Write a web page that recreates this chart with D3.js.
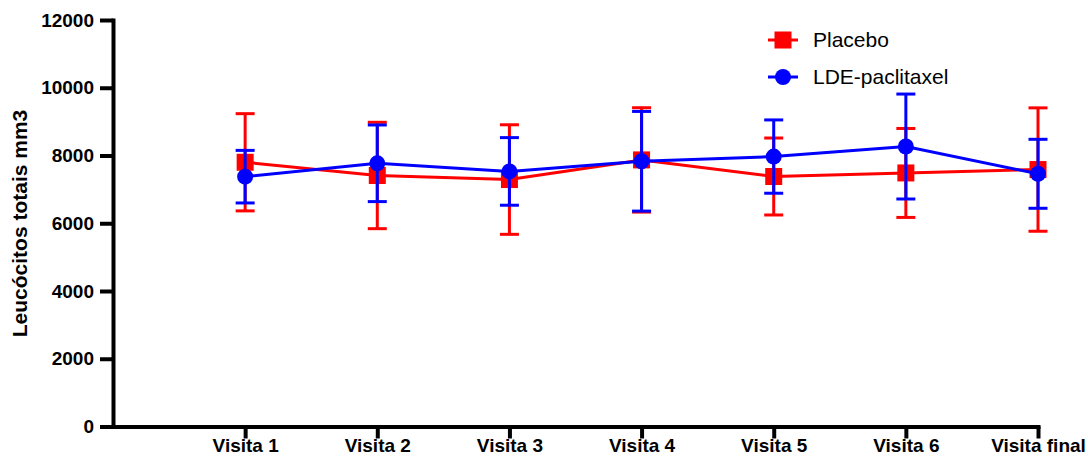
<!DOCTYPE html>
<html>
<head>
<meta charset="utf-8">
<script src="https://cdn.jsdelivr.net/npm/d3@7/dist/d3.min.js"></script>
<style>
  html, body { margin: 0; padding: 0; background: #fff; }
  svg { display: block; }
  text { font-family: "Liberation Sans", Arial, sans-serif; }
</style>
</head>
<body>
<svg id="chart" width="1088" height="456"></svg>
<script>
const categories = ["Visita 1", "Visita 2", "Visita 3", "Visita 4", "Visita 5", "Visita 6", "Visita final"];
const placeboMean = [7800, 7410, 7290, 7870, 7380, 7485, 7585];
const placeboSD   = [1435, 1570, 1617, 1540, 1136, 1313, 1821];
const ldeMean     = [7375, 7770, 7530, 7830, 7968, 8265, 7460];
const ldeSD       = [776, 1131, 998, 1471, 1082, 1549, 1018];
const yTicks      = [0, 2000, 4000, 6000, 8000, 10000, 12000];
const seriesNames = ["Placebo", "LDE-paclitaxel"];
const yTitle      = "Leucócitos totais mm3";

const svg = d3.select("#chart");

const x = d3.scaleLinear().domain([0, categories.length]).range([113, 1038]);
const y = d3.scaleLinear().domain([0, 12000]).range([426.5, 20]);

// Y axis
const yAxis = svg.append("g")
  .attr("transform", `translate(${x(0)},0)`)
  .call(d3.axisLeft(y).tickValues(yTicks).tickFormat(d3.format("d")).tickSize(13).tickSizeOuter(0).tickPadding(6));
yAxis.select(".domain").attr("stroke", "#000").attr("stroke-width", 4).attr("stroke-linecap", "square");
yAxis.selectAll(".tick line").attr("stroke", "#000").attr("stroke-width", 4);
yAxis.selectAll(".tick text").attr("fill", "#000").style("font-size", "19px").style("font-weight", "bold");

// X axis
const xAxis = svg.append("g")
  .attr("transform", `translate(0,${y(0)})`)
  .call(d3.axisBottom(x).tickValues(d3.range(1, categories.length + 1))
    .tickFormat(i => categories[i - 1]).tickSize(12).tickSizeOuter(0).tickPadding(0));
xAxis.select(".domain").attr("stroke", "#000").attr("stroke-width", 4).attr("stroke-linecap", "square");
xAxis.selectAll(".tick line").attr("stroke", "#000").attr("stroke-width", 4);
xAxis.selectAll(".tick text").attr("fill", "#000").style("font-size", "19px").style("font-weight", "bold");

// Y title
svg.append("text")
  .attr("transform", "rotate(-90)")
  .attr("x", -223.5)
  .attr("y", 27)
  .attr("text-anchor", "middle")
  .style("font-size", "21px")
  .style("font-weight", "bold")
  .attr("fill", "#000")
  .text(yTitle);

const series = [
  { name: seriesNames[0], mean: placeboMean, sd: placeboSD, color: "#ff0000", shape: "square" },
  { name: seriesNames[1], mean: ldeMean, sd: ldeSD, color: "#0000ff", shape: "circle" }
];

const capHalf = 9.5;

series.forEach(s => {
  const g = svg.append("g");
  const pts = s.mean.map((m, i) => ({ i: i + 1, m, sd: s.sd[i] }));
  const eb = g.selectAll(".eb").data(pts).enter().append("g");
  eb.append("line")
    .attr("x1", d => x(d.i)).attr("x2", d => x(d.i))
    .attr("y1", d => y(d.m + d.sd)).attr("y2", d => y(d.m - d.sd))
    .attr("stroke", s.color).attr("stroke-width", 3);
  eb.append("line")
    .attr("x1", d => x(d.i) - capHalf).attr("x2", d => x(d.i) + capHalf)
    .attr("y1", d => y(d.m + d.sd)).attr("y2", d => y(d.m + d.sd))
    .attr("stroke", s.color).attr("stroke-width", 3);
  eb.append("line")
    .attr("x1", d => x(d.i) - capHalf).attr("x2", d => x(d.i) + capHalf)
    .attr("y1", d => y(d.m - d.sd)).attr("y2", d => y(d.m - d.sd))
    .attr("stroke", s.color).attr("stroke-width", 3);
  g.append("path")
    .datum(pts)
    .attr("fill", "none")
    .attr("stroke", s.color)
    .attr("stroke-width", 3)
    .attr("d", d3.line().x(d => x(d.i)).y(d => y(d.m)));
  if (s.shape === "square") {
    g.selectAll(".mk").data(pts).enter().append("rect")
      .attr("x", d => x(d.i) - 8.5).attr("y", d => y(d.m) - 8.5)
      .attr("width", 17).attr("height", 17)
      .attr("fill", s.color);
  } else {
    g.selectAll(".mk").data(pts).enter().append("circle")
      .attr("cx", d => x(d.i)).attr("cy", d => y(d.m)).attr("r", 8)
      .attr("fill", s.color);
  }
});

// Legend
const legendY = [40, 77];
series.forEach((s, k) => {
  const lg = svg.append("g").attr("transform", `translate(783,${legendY[k]})`);
  lg.append("line").attr("x1", -15).attr("x2", 15).attr("y1", 0).attr("y2", 0)
    .attr("stroke", s.color).attr("stroke-width", 3);
  if (s.shape === "square") {
    lg.append("rect").attr("x", -8.5).attr("y", -8.5).attr("width", 17).attr("height", 17).attr("fill", s.color);
  } else {
    lg.append("circle").attr("r", 8).attr("fill", s.color);
  }
  lg.append("text").attr("x", 30).attr("y", 0).attr("dy", "0.35em")
    .style("font-size", "21px").attr("fill", "#000").text(s.name);
});
</script>
</body>
</html>
